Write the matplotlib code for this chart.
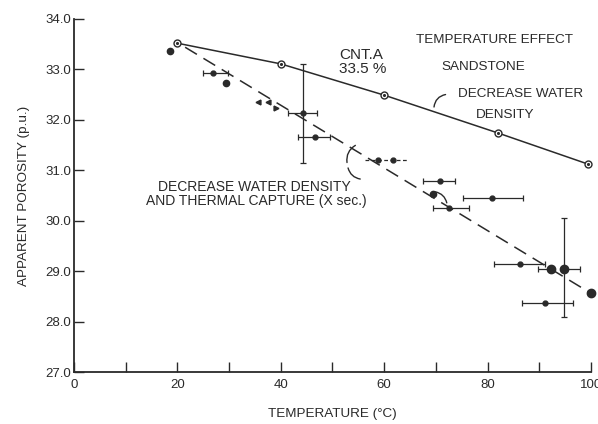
import numpy as np
import matplotlib
matplotlib.use('Agg')
import matplotlib.pyplot as plt

# solid curve: CNT.A, decrease water density only
cnt_t = [20, 40, 60, 82, 99.5]
cnt_phi = [33.52, 33.11, 32.49, 31.74, 31.12]

# dashed trend: water density + thermal capture
trend_t = [21.5, 100]
trend_phi = [33.44, 28.56]

# plain dots
dot_t = [18.6, 29.4, 69.4]
dot_phi = [33.37, 32.73, 30.52]
big_t = [92.3, 94.8, 100]
big_phi = [29.04, 29.04, 28.56]

# small triangles
tri_t = [35.6, 37.5, 39.1]
tri_phi = [32.35, 32.35, 32.23]
tri_mk = ['<', '<', '>']

# points with horizontal error bars (low / high temperature)
bar_t = [26.9, 44.3, 46.6, 70.8, 72.5, 80.8, 86.3, 91.1, 92.3, 94.8]
bar_phi = [32.93, 32.13, 31.66, 30.79, 30.25, 30.45, 29.14, 28.36, 29.04, 29.04]
bar_lo = [25.0, 41.4, 43.3, 67.5, 69.4, 75.2, 81.2, 86.7, 89.7, 94.8]
bar_hi = [29.8, 47.0, 49.5, 73.7, 76.4, 86.8, 91.1, 96.5, 92.3, 97.9]

# vertical error bars
vbar_t = [44.3, 94.8]
vbar_phi = [32.13, 29.04]
vbar_lo = [31.14, 28.09]
vbar_hi = [33.11, 30.05]

# dashed error bar pair near 60 C
dsh_t = [58.8, 61.7]
dsh_phi = [31.2, 31.2]
dsh_lo, dsh_hi = 56.3, 64.6

ink = '#2a2a2a'
plt.rcParams['font.family'] = ['Liberation Sans', 'DejaVu Sans']

fig = plt.figure(figsize=(5.98, 4.24), dpi=100)
ax = fig.add_axes([0.1237, 0.1226, 0.8646, 0.8326])

ax.plot(cnt_t, cnt_phi, '-', color=ink, lw=1.1, zorder=2)
ax.plot(cnt_t, cnt_phi, 'o', ms=5, mfc='white', mec=ink, mew=1.0, zorder=3, clip_on=False)
ax.plot(cnt_t, cnt_phi, '.', ms=2.5, color=ink, zorder=4, clip_on=False)

ax.plot(trend_t, trend_phi, color=ink, lw=1.1, ls=(0, (9, 5)), zorder=2)

ax.plot(dot_t, dot_phi, 'o', ms=4.5, color=ink, zorder=3)
ax.plot(big_t, big_phi, 'o', ms=6, color=ink, zorder=3, clip_on=False)
for t, p, m in zip(tri_t, tri_phi, tri_mk):
    ax.plot(t, p, m, ms=3.5, color=ink)

bt = np.array(bar_t)
xerr = [bt - np.array(bar_lo), np.array(bar_hi) - bt]
ax.errorbar(bt, bar_phi, xerr=xerr, fmt='o', ms=3.5, color=ink,
            elinewidth=0.9, capsize=2, capthick=0.9, zorder=3)

vt = np.array(vbar_phi)
yerr = [vt - np.array(vbar_lo), np.array(vbar_hi) - vt]
ax.errorbar(vbar_t, vbar_phi, yerr=yerr, fmt='none', ecolor=ink,
            elinewidth=0.9, capsize=2, capthick=0.9, zorder=3)

ax.plot([dsh_lo, dsh_hi], dsh_phi, color=ink, lw=0.9, ls=(0, (3, 2)))
ax.plot(dsh_t, dsh_phi, 'o', ms=3.5, color=ink)

# annotations
txt = dict(color=ink, fontsize=9.7)
ax.text(51.3, 33.43, 'CNT.A\n33.5 %', ha='left', va='top', linespacing=1.0,
        color=ink, fontsize=11)
ax.text(81.4, 33.58, 'TEMPERATURE EFFECT', ha='center', va='center', **txt)
ax.text(79.2, 33.05, 'SANDSTONE', ha='center', va='center', **txt)
ax.text(86.3, 32.51, 'DECREASE WATER', ha='center', va='center', **txt)
ax.text(83.4, 32.10, 'DENSITY', ha='center', va='center', **txt)
ax.text(34.9, 30.67, 'DECREASE WATER DENSITY', ha='center', va='center',
        color=ink, fontsize=10)
ax.text(35.2, 30.40, 'AND THERMAL CAPTURE (X sec.)', ha='center', va='center',
        color=ink, fontsize=10)

squig = dict(arrowstyle='-', color=ink, lw=1.0)
ax.annotate('', xy=(69.6, 32.20), xytext=(72.4, 32.51),
            arrowprops=dict(connectionstyle='arc3,rad=0.45', **squig))
ax.annotate('', xy=(52.9, 31.10), xytext=(54.9, 31.52),
            arrowprops=dict(connectionstyle='arc3,rad=0.4', **squig))
ax.annotate('', xy=(55.9, 30.82), xytext=(52.9, 31.10),
            arrowprops=dict(connectionstyle='arc3,rad=0.4', **squig))
ax.annotate('', xy=(72.2, 30.30), xytext=(69.4, 30.58),
            arrowprops=dict(connectionstyle='arc3,rad=-0.4', **squig))

ax.set_xlim(0, 100)
ax.set_ylim(27, 34)
ax.set_xticks(np.arange(0, 101, 20))
ax.set_xticks(np.arange(10, 100, 20), minor=True)
ax.set_yticks(np.arange(27, 34.01, 1))
ax.set_yticklabels(['%.1f' % v for v in np.arange(27, 34.01, 1)])
ax.tick_params(which='both', direction='in', length=7, width=1.0, color=ink,
               labelcolor=ink, labelsize=9.5)
ax.tick_params(axis='y', pad=2)
ax.tick_params(axis='x', pad=5)

for s in ['top', 'right']:
    ax.spines[s].set_visible(False)
for s in ['left', 'bottom']:
    ax.spines[s].set_color(ink)
    ax.spines[s].set_linewidth(1.3)

ax.set_xlabel('TEMPERATURE (°C)', fontsize=9.7, color=ink, labelpad=12)
ax.set_ylabel('APPARENT POROSITY (p.u.)', fontsize=9.7, color=ink, labelpad=11)

fig.savefig('out.png', dpi=100)
